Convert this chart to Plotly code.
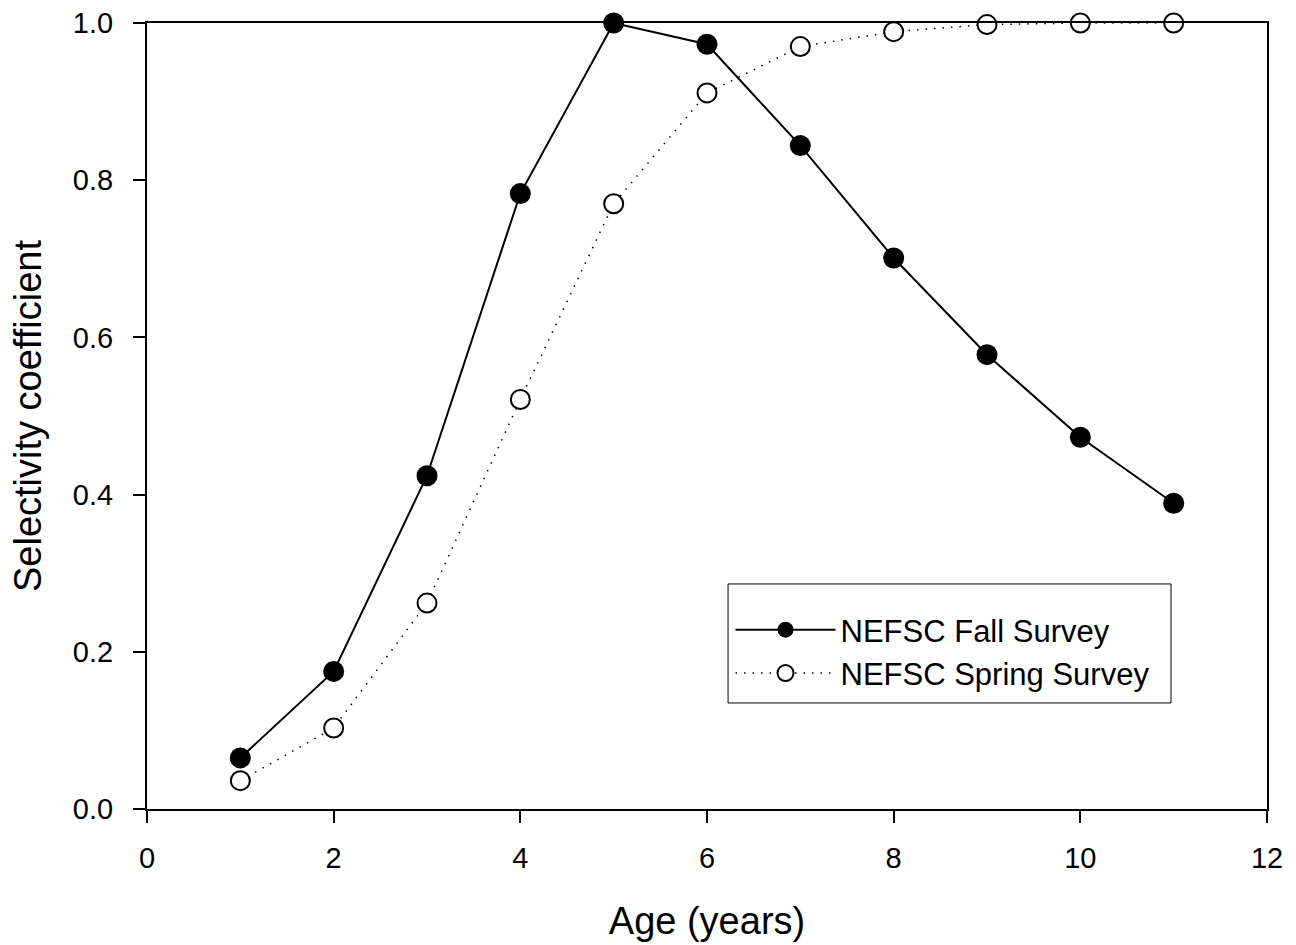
import plotly.graph_objects as go

ages = [1, 2, 3, 4, 5, 6, 7, 8, 9, 10, 11]
fall = [0.065, 0.175, 0.424, 0.783, 1.0, 0.973, 0.844, 0.701, 0.578, 0.473, 0.389]
spring = [0.036, 0.103, 0.262, 0.521, 0.770, 0.911, 0.970, 0.989, 0.998, 1.0, 1.0]
series_names = ["NEFSC Fall Survey", "NEFSC Spring Survey"]
x_ticks = [0, 2, 4, 6, 8, 10, 12]
y_ticks = [0.0, 0.2, 0.4, 0.6, 0.8, 1.0]

fig = go.Figure()
fig.add_trace(go.Scatter(
    x=ages, y=spring, name=series_names[1], mode="lines+markers",
    line=dict(color="black", width=1.5, dash="1.5px,7px"),
    marker=dict(symbol="circle", size=19, color="white", line=dict(color="black", width=2)),
    cliponaxis=False,
))
fig.add_trace(go.Scatter(
    x=ages, y=fall, name=series_names[0], mode="lines+markers",
    line=dict(color="black", width=2),
    marker=dict(symbol="circle", size=21, color="black", line=dict(color="black", width=0)),
    cliponaxis=False,
))

font = "Liberation Sans, Arial, sans-serif"
fig.update_layout(
    width=1296, height=945,
    margin=dict(l=147, r=29, t=23, b=136),
    plot_bgcolor="white", paper_bgcolor="white",
    font=dict(family=font, color="black", size=29),
    showlegend=True,
    legend=dict(
        x=0.521, y=0.262, xanchor="left", yanchor="top",
        borderwidth=0, bgcolor="rgba(0,0,0,0)",
        font=dict(size=31, family=font), traceorder="reversed",
        tracegroupgap=0, itemwidth=100,
    ),
    shapes=[dict(
        type="rect", xref="paper", yref="paper",
        x0=0.5188, x1=0.9143, y0=0.1349, y1=0.2863,
        line=dict(color="black", width=1), fillcolor="rgba(0,0,0,0)", layer="below",
    )],
    xaxis=dict(
        range=[0, 12], tickvals=x_ticks, ticktext=[str(v) for v in x_ticks],
        showgrid=False, zeroline=False, showline=True, linecolor="black", linewidth=2,
        mirror=True, ticks="outside", ticklen=12, tickwidth=2, tickcolor="black",
        ticklabelstandoff=10, tickfont=dict(size=29, family=font),
        title=dict(text="Age (years)", font=dict(size=38, family=font), standoff=35),
        automargin=False,
    ),
    yaxis=dict(
        range=[0, 1], tickvals=y_ticks, ticktext=[f"{v:.1f}" for v in y_ticks],
        showgrid=False, zeroline=False, showline=True, linecolor="black", linewidth=2,
        mirror=True, ticks="outside", ticklen=12, tickwidth=2, tickcolor="black",
        ticklabelstandoff=14, tickfont=dict(size=29, family=font),
        title=dict(text="Selectivity coefficient", font=dict(size=38, family=font), standoff=20),
        automargin=False,
    ),
)
fig.write_html(
    "out.html",
    config={"displayModeBar": False},
    post_script="document.body.style.margin='0';document.body.style.overflow='hidden';",
)
